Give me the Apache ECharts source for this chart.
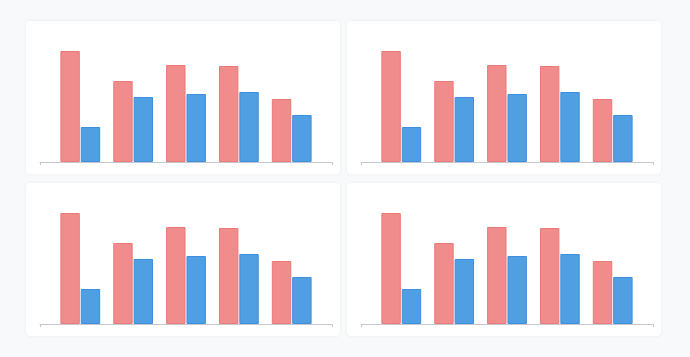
<!DOCTYPE html>
<html>
<head>
<meta charset="utf-8">
<script src="https://cdn.jsdelivr.net/npm/echarts@6/dist/echarts.min.js"></script>
<style>
  html, body { margin: 0; padding: 0; background: #f8f9fa; width: 690px; height: 357px; overflow: hidden; }
  .card { position: absolute; width: 314px; height: 153px; background: #ffffff; border-radius: 4px;
          box-shadow: 0 0 3px rgba(0,0,0,0.07); }
  .chart { width: 314px; height: 153px; }
</style>
</head>
<body>
<div class="card" style="left:26px;top:21px"><div class="chart" id="c1"></div></div>
<div class="card" style="left:347px;top:21px"><div class="chart" id="c2"></div></div>
<div class="card" style="left:26px;top:183px"><div class="chart" id="c3"></div></div>
<div class="card" style="left:347px;top:183px"><div class="chart" id="c4"></div></div>
<script>
const categories = ['A', 'B', 'C', 'D', 'E'];
const seriesA = [111, 81, 97, 96, 63];
const seriesB = [35, 65, 68, 70, 47];

function makeOption() {
  return {
    animation: false,
    grid: { left: 14, right: 8, top: 21, bottom: 12 },
    xAxis: {
      type: 'value',
      min: 0.238, max: 5.762, interval: 5.524,
      axisLine: { show: true, lineStyle: { color: '#c4c7cf', width: 1 } },
      axisTick: { show: true, length: 3, lineStyle: { color: '#c4c7cf' } },
      axisLabel: { show: false },
      splitLine: { show: false }
    },
    yAxis: {
      type: 'value', min: 0, max: 120,
      axisLine: { show: false }, axisTick: { show: false },
      axisLabel: { show: false }, splitLine: { show: false }
    },
    series: [
      {
        type: 'bar', name: 'A',
        barWidth: 19.4, barGap: '5%',
        data: categories.map((c, i) => [i + 1, seriesA[i]]),
        itemStyle: { color: '#f08c8c', borderColor: '#ec7878', borderWidth: 1 }
      },
      {
        type: 'bar', name: 'B',
        barWidth: 19.4, barGap: '5%',
        data: categories.map((c, i) => [i + 1, seriesB[i]]),
        itemStyle: { color: '#519fe3', borderColor: '#3c8fdc', borderWidth: 1 }
      }
    ]
  };
}
['c1', 'c2', 'c3', 'c4'].forEach(id => {
  const ch = echarts.init(document.getElementById(id), null, { renderer: 'canvas' });
  ch.setOption(makeOption());
});
</script>
</body>
</html>
